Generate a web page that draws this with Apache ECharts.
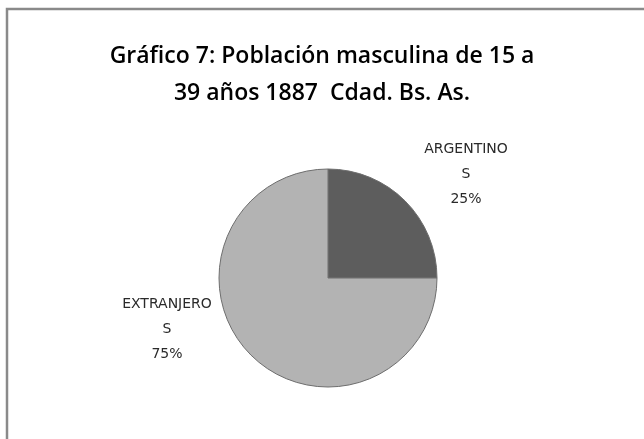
<!DOCTYPE html>
<html>
<head>
<meta charset="utf-8">
<script src="https://cdn.jsdelivr.net/npm/echarts@6/dist/echarts.min.js"></script>
<style>
  html, body { margin: 0; padding: 0; background: #fff; }
  #chart { width: 644px; height: 439px; }
</style>
</head>
<body>
<div id="chart"></div>
<script>
// datos del gráfico
const categorias = ['ARGENTINOS', 'EXTRANJEROS'];
const valores = [25, 75];
const colores = ['#5d5d5d', '#b3b3b3'];
// posición de las etiquetas (como en el original de Excel)
const posEtiquetas = [[466, 174], [167, 329]];

const chart = echarts.init(document.getElementById('chart'));

const option = {
  backgroundColor: '#fff',
  animation: false,
  title: {
    text: 'Gráfico 7: Población masculina de 15 a\n39 años 1887  Cdad. Bs. As.',
    left: 'center',
    top: 33,
    textStyle: {
      fontFamily: 'Open Sans',
      fontSize: 23,
      fontWeight: 600,
      color: '#000',
      lineHeight: 37
    }
  },
  graphic: [
    {
      type: 'rect',
      shape: { x: 7, y: 9, width: 660, height: 460 },
      style: { fill: 'none', stroke: '#8a8a8a', lineWidth: 2.5 },
      silent: true
    }
  ],
  series: [
    {
      type: 'pie',
      center: [328, 278],
      radius: 109,
      startAngle: 90,
      clockwise: true,
      data: categorias.map((c, i) => ({
        name: c,
        value: valores[i],
        itemStyle: { color: colores[i] }
      })),
      itemStyle: { borderColor: '#6e6e6e', borderWidth: 1 },
      label: {
        show: true,
        position: 'outside',
        fontFamily: 'DejaVu Sans',
        fontSize: 14,
        color: '#2a2a2a',
        lineHeight: 25,
        align: 'center',
        formatter: (p) => p.name.slice(0, -1) + '\n' + p.name.slice(-1) + '\n' + p.percent + '%'
      },
      labelLine: { show: false },
      labelLayout: (params) => ({
        x: posEtiquetas[params.dataIndex][0],
        y: posEtiquetas[params.dataIndex][1],
        align: 'center',
        verticalAlign: 'middle'
      }),
      emphasis: { disabled: true }
    }
  ]
};

chart.setOption(option);
</script>
</body>
</html>
